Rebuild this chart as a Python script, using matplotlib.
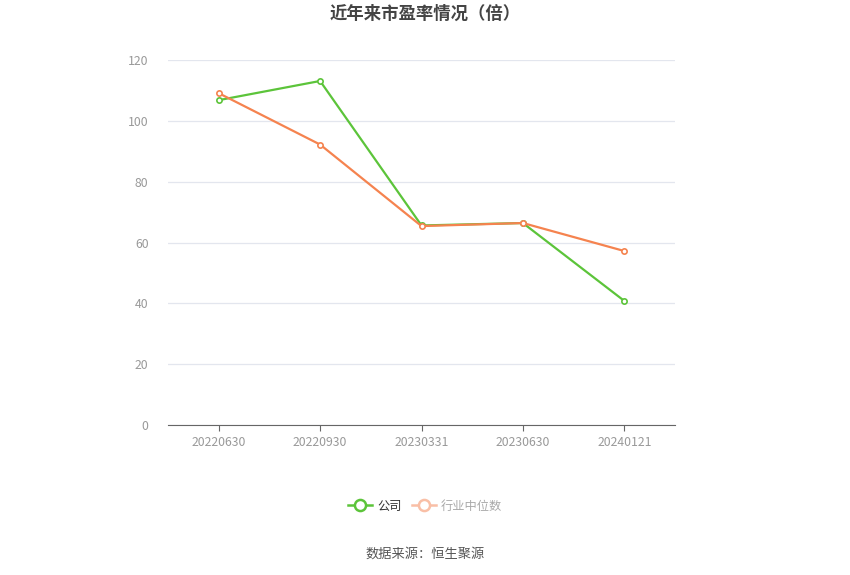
import matplotlib.pyplot as plt
from matplotlib.lines import Line2D

plt.rcParams['font.family'] = ['Noto Sans CJK SC', 'DejaVu Sans']

# data
dates = ["20220630", "20220930", "20230331", "20230630", "20240121"]
company_pe = [106.8, 113.1, 65.6, 66.4, 40.8]
industry_pe = [109.1, 92.2, 65.4, 66.4, 57.2]
yticks = [0, 20, 40, 60, 80, 100, 120]

green = "#5cc43a"
orange = "#f5834f"

W, H = 850, 575
fig = plt.figure(figsize=(W / 100, H / 100), dpi=100)
ax = fig.add_axes([168 / W, (H - 425) / H, (675 - 168) / W, (425 - 60) / H])

x = list(range(len(dates)))
ax.plot(x, company_pe, color=green, lw=1.6, marker="o", ms=3.8,
        mfc="white", mec=green, mew=1.2, zorder=3)
ax.plot(x, industry_pe, color=orange, lw=1.6, marker="o", ms=3.8,
        mfc="white", mec=orange, mew=1.2, zorder=4)

ax.set_xlim(-0.5, len(dates) - 0.5)
ax.set_ylim(0, 120)
ax.set_yticks(yticks)
ax.set_xticks(x)
ax.set_xticklabels(dates)
ax.grid(axis="y", color="#e3e6ee", lw=0.9)
ax.set_axisbelow(True)
for s in ["top", "right", "left"]:
    ax.spines[s].set_visible(False)
ax.spines["bottom"].set_color("#666666")
ax.tick_params(axis="y", length=0, labelsize=8.8, labelcolor="#999999", pad=14)
ax.tick_params(axis="x", length=4, color="#666666", labelsize=8.8,
               labelcolor="#999999", pad=4)

fig.text(0.5, 1 - 14 / H, "近年来市盈率情况（倍）", ha="center", va="center",
         fontsize=12.5, fontweight="bold", color="#444444")

handles = [
    Line2D([], [], color=green, lw=1.8, marker="o", ms=8, mfc="white", mec=green, mew=1.8),
    Line2D([], [], color="#f9bfa6", lw=1.8, marker="o", ms=8, mfc="white", mec="#f9bfa6", mew=1.8),
]
leg = fig.legend(handles, ["公司", "行业中位数"], loc="center",
                 bbox_to_anchor=(0.5, 1 - 506 / H), ncol=2, frameon=False,
                 fontsize=8.8, handlelength=2.0, columnspacing=0.8, handletextpad=0.4)
leg.get_texts()[0].set_color("#333333")
leg.get_texts()[1].set_color("#aaaaaa")

fig.text(0.5, 1 - 554 / H, "数据来源：恒生聚源", ha="center", va="center",
         fontsize=9.5, color="#555555")

fig.savefig("out.png", dpi=100)
